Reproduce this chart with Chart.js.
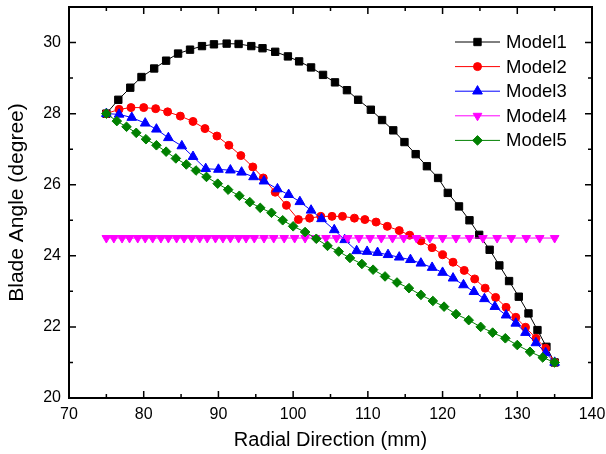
<!DOCTYPE html>
<html lang="en">
<head>
<meta charset="UTF-8">
<title>Blade Angle vs Radial Direction</title>
<script src="https://cdn.jsdelivr.net/npm/chart.js"></script>
<style>
  body { margin: 0; background: #fff; }
</style>
</head>
<body>
<canvas id="bladeChart" width="606" height="454"></canvas>
<script>
// values
const seriesNames = ['Model1', 'Model2', 'Model3', 'Model4', 'Model5'];
const xTicks = [70, 80, 90, 100, 110, 120, 130, 140];
const yTicks = [20, 22, 24, 26, 28, 30];

const model1X = [75, 76.6, 78.2, 79.7, 81.4, 83.0, 84.6, 86.2, 87.8, 89.4, 91.1, 92.7, 94.4, 95.9, 97.6, 99.3, 100.8, 102.4, 104.0, 105.6, 107.2, 108.7, 110.4, 111.9, 113.4, 114.9, 116.4, 117.9, 119.4, 120.7, 122.2, 123.6, 124.9, 126.3, 127.6, 128.9, 130.2, 131.5, 132.7, 133.9, 135];
const model1Y = [28.0, 28.39, 28.73, 29.03, 29.27, 29.49, 29.69, 29.80, 29.90, 29.95, 29.97, 29.96, 29.90, 29.84, 29.74, 29.61, 29.47, 29.30, 29.09, 28.88, 28.66, 28.39, 28.11, 27.82, 27.53, 27.20, 26.86, 26.52, 26.19, 25.77, 25.39, 25.00, 24.59, 24.17, 23.73, 23.29, 22.85, 22.38, 21.91, 21.44, 21.0];

const model2X = [75, 76.7, 78.3, 80.0, 81.6, 83.2, 84.9, 86.6, 88.2, 89.8, 91.4, 93.0, 94.6, 96.0, 97.6, 99.1, 100.7, 102.2, 103.7, 105.2, 106.6, 108.2, 109.6, 111.1, 112.6, 114.2, 115.6, 117.1, 118.6, 120.0, 121.4, 122.9, 124.3, 125.7, 127.1, 128.5, 129.8, 131.1, 132.5, 133.8, 135];
const model2Y = [28.0, 28.12, 28.17, 28.17, 28.14, 28.05, 27.93, 27.78, 27.58, 27.37, 27.11, 26.82, 26.50, 26.19, 25.79, 25.42, 25.02, 25.06, 25.11, 25.11, 25.11, 25.06, 25.02, 24.95, 24.83, 24.71, 24.58, 24.42, 24.23, 24.03, 23.82, 23.59, 23.35, 23.09, 22.83, 22.55, 22.27, 21.99, 21.68, 21.40, 21.0];

const model3X = [75, 76.7, 78.4, 80.2, 81.7, 83.3, 85.1, 86.6, 88.3, 90.0, 91.6, 93.1, 94.7, 96.1, 97.9, 99.4, 100.9, 102.4, 103.8, 105.5, 106.9, 108.5, 109.9, 111.3, 112.7, 114.2, 115.7, 117.1, 118.6, 120.0, 121.4, 122.8, 124.2, 125.6, 127.0, 128.5, 129.8, 131.1, 132.5, 133.8, 135];
const model3Y = [28.0, 27.98, 27.89, 27.73, 27.56, 27.32, 27.09, 26.79, 26.45, 26.43, 26.41, 26.35, 26.22, 26.10, 25.88, 25.72, 25.52, 25.28, 25.04, 24.73, 24.45, 24.14, 24.12, 24.09, 24.03, 23.96, 23.89, 23.79, 23.67, 23.53, 23.37, 23.18, 22.99, 22.79, 22.57, 22.33, 22.10, 21.84, 21.55, 21.27, 21.0];

const model4X = [75.0, 76.0, 77.1, 78.1, 79.2, 80.2, 81.2, 82.3, 83.3, 84.4, 85.4, 86.4, 87.5, 88.5, 89.6, 90.6, 91.6, 92.7, 93.7, 94.8, 96.1, 97.4, 98.8, 100.2, 101.6, 103.0, 104.4, 105.8, 107.3, 108.8, 110.3, 111.8, 113.3, 114.8, 116.5, 118.3, 120.0, 121.8, 123.6, 125.4, 127.3, 129.2, 131.2, 133.0, 135.0];
const model4Y = [24.5, 24.5, 24.5, 24.5, 24.5, 24.5, 24.5, 24.5, 24.5, 24.5, 24.5, 24.5, 24.5, 24.5, 24.5, 24.5, 24.5, 24.5, 24.5, 24.5, 24.5, 24.5, 24.5, 24.5, 24.5, 24.5, 24.5, 24.5, 24.5, 24.5, 24.5, 24.5, 24.5, 24.5, 24.5, 24.5, 24.5, 24.5, 24.5, 24.5, 24.5, 24.5, 24.5, 24.5, 24.5];

const model5X = [75, 76.4, 77.7, 79.0, 80.3, 81.7, 83.0, 84.3, 85.7, 87.0, 88.4, 89.9, 91.3, 92.8, 94.2, 95.6, 97.1, 98.6, 100.0, 101.6, 103.1, 104.6, 106.1, 107.6, 109.2, 110.7, 112.3, 113.9, 115.5, 117.1, 118.7, 120.2, 121.8, 123.5, 125.1, 126.7, 128.4, 130.0, 131.7, 133.4, 135];
const model5Y = [28.0, 27.79, 27.63, 27.46, 27.28, 27.11, 26.93, 26.74, 26.57, 26.40, 26.22, 26.03, 25.86, 25.69, 25.51, 25.35, 25.21, 25.00, 24.83, 24.67, 24.48, 24.28, 24.12, 23.94, 23.77, 23.61, 23.42, 23.25, 23.09, 22.90, 22.73, 22.57, 22.36, 22.19, 22.00, 21.84, 21.68, 21.49, 21.30, 21.14, 21.0];

const FONT = "'Liberation Sans', Arial, sans-serif";

function pts(xs, ys) {
    return xs.map((x, i) => ({ x: x, y: ys[i] }));
}

function makeSet(i, xs, ys, color, style, radius, rotation) {
    return {
        label: seriesNames[i],
        data: pts(xs, ys),
        showLine: true,
        borderColor: color,
        borderWidth: 1,
        pointStyle: style,
        pointRadius: radius,
        pointHoverRadius: radius,
        pointRotation: rotation,
        pointBackgroundColor: color,
        pointBorderColor: color,
        pointBorderWidth: 1,
        order: 5 - i
    };
}

// inward ticks on all four sides plus the frame
const frameTicks = {
    id: 'frameTicks',
    afterDraw(chart) {
        const { ctx, chartArea: a, scales } = chart;
        const xs = scales.x, ys = scales.y;
        const minor = arr => arr.slice(1).map((v, i) => (v + arr[i]) / 2);
        ctx.save();
        ctx.strokeStyle = '#000';
        ctx.lineWidth = 1.5;
        ctx.beginPath();
        const xMark = (v, len) => {
            const p = xs.getPixelForValue(v);
            ctx.moveTo(p, a.bottom); ctx.lineTo(p, a.bottom - len);
            ctx.moveTo(p, a.top); ctx.lineTo(p, a.top + len);
        };
        const yMark = (v, len) => {
            const p = ys.getPixelForValue(v);
            ctx.moveTo(a.left, p); ctx.lineTo(a.left + len, p);
            ctx.moveTo(a.right, p); ctx.lineTo(a.right - len, p);
        };
        xTicks.forEach(v => xMark(v, 7));
        minor(xTicks).forEach(v => xMark(v, 4));
        yTicks.forEach(v => yMark(v, 7));
        minor(yTicks).forEach(v => yMark(v, 4));
        ctx.stroke();
        ctx.lineWidth = 2;
        ctx.strokeRect(a.left, a.top, a.right - a.left, a.bottom - a.top);
        ctx.restore();
    }
};

// legend drawn inside the plot: line with marker, then name
const insideLegend = {
    id: 'insideLegend',
    afterDraw(chart) {
        const { ctx, chartArea: a } = chart;
        const x0 = a.right - 137;
        ctx.save();
        ctx.font = '18.5px ' + FONT;
        ctx.textBaseline = 'middle';
        chart.data.datasets.forEach((ds, i) => {
            const yy = a.top + 35 + i * 24.6;
            ctx.strokeStyle = ds.borderColor;
            ctx.lineWidth = 1;
            ctx.beginPath();
            ctx.moveTo(x0, yy);
            ctx.lineTo(x0 + 45, yy);
            ctx.stroke();
            ctx.fillStyle = ds.pointBackgroundColor;
            ctx.strokeStyle = ds.pointBorderColor;
            Chart.helpers.drawPoint(ctx, {
                pointStyle: ds.pointStyle,
                radius: ds.pointRadius,
                borderWidth: 1,
                rotation: ds.pointRotation
            }, x0 + 22.5, yy);
            ctx.fillStyle = '#000';
            ctx.fillText(ds.label, x0 + 51, yy + 1);
        });
        ctx.restore();
    }
};

const ctx = document.getElementById('bladeChart').getContext('2d');
new Chart(ctx, {
    type: 'scatter',
    data: {
        datasets: [
            makeSet(0, model1X, model1Y, '#000000', 'rect', 5.2, 0),
            makeSet(1, model2X, model2Y, '#ff0000', 'circle', 4, 0),
            makeSet(2, model3X, model3Y, '#0000ff', 'triangle', 5.6, 0),
            makeSet(3, model4X, model4Y, '#ff00ff', 'triangle', 5, 180),
            makeSet(4, model5X, model5Y, '#008000', 'rectRot', 4.8, 0)
        ]
    },
    options: {
        responsive: false,
        animation: false,
        devicePixelRatio: 1,
        layout: { padding: { top: 7, right: 14, left: 0, bottom: 0 } },
        plugins: {
            legend: { display: false },
            tooltip: { enabled: false }
        },
        scales: {
            x: {
                type: 'linear',
                min: 70,
                max: 140,
                grid: { display: false, drawTicks: false },
                border: { display: false },
                afterBuildTicks: s => { s.ticks = xTicks.map(v => ({ value: v })); },
                afterFit: s => { s.height = 56; s.paddingLeft = 0; s.paddingRight = 0; },
                ticks: { color: '#000', padding: 7, font: { family: FONT, size: 16 } },
                title: {
                    display: true,
                    text: 'Radial Direction (mm)',
                    color: '#000',
                    font: { family: FONT, size: 20 },
                    padding: { top: 0, bottom: 2 }
                }
            },
            y: {
                type: 'linear',
                min: 20,
                max: 31,
                grid: { display: false, drawTicks: false },
                border: { display: false },
                afterBuildTicks: s => { s.ticks = yTicks.map(v => ({ value: v })); },
                afterFit: s => { s.width = 69; s.paddingTop = 0; s.paddingBottom = 0; },
                ticks: { color: '#000', padding: 8, font: { family: FONT, size: 16 } },
                title: {
                    display: true,
                    text: 'Blade Angle (degree)',
                    color: '#000',
                    font: { family: FONT, size: 21 },
                    padding: { top: 5, bottom: 0 }
                }
            }
        }
    },
    plugins: [frameTicks, insideLegend]
});
</script>
</body>
</html>
